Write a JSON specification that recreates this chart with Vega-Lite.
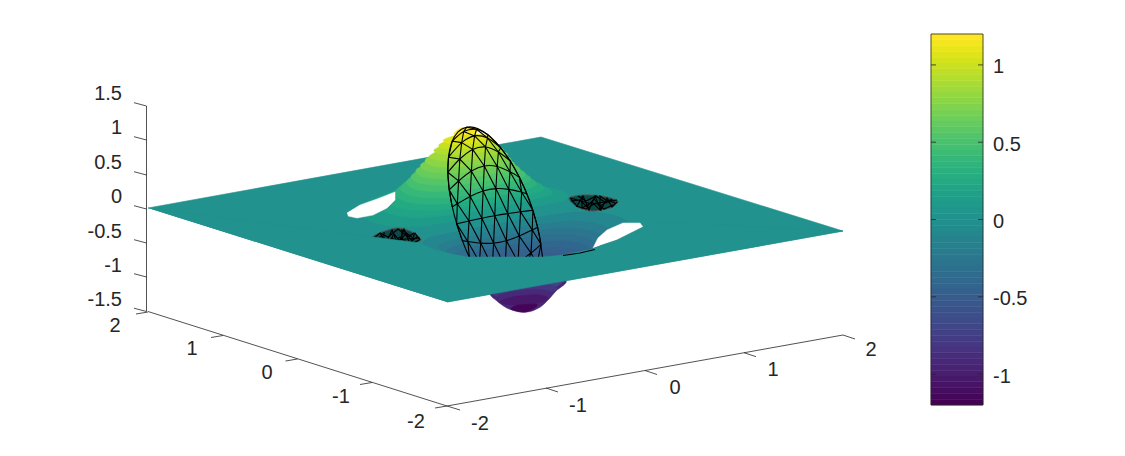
{"$schema":"https://vega.github.io/schema/vega-lite/v6.json","width":1125,"height":456,"padding":0,"autosize":{"type":"fit","contains":"padding"},"background":"#ffffff","config":{"view":{"stroke":null}},
"datasets":{
"plane":[{"p":1,"z":0.01,"pts":[[148,208],[541,137],[843,231],[447,302]]}],
"poly":[
{"p":2,"z":0.105,"pts":[[494.6,215],[556.2,202.6],[565.7,199],[568.3,194.9],[559.4,189.9],[538.3,185.5],[511.6,182.9],[474.3,182.2],[446.3,183.5],[408,187.8],[380.3,195.3],[367.2,201.4],[359.8,210.1],[362.9,216.9],[374.8,222.9],[392.7,226.3],[410.3,226.9],[427.4,225.6]]},
{"p":3,"z":0.19,"pts":[[493.3,208.4],[546.6,196.2],[552,191.6],[544,186.4],[522,182.2],[492,180.2],[457.5,180.9],[419.6,185.2],[391.5,192.7],[379.4,200.4],[379.2,207.8],[390.2,214],[409,217.2],[429.4,217.3]]},
{"p":31,"z":0.26,"pts":[[492.2,202.85],[536.4,192.85],[544.25,187.8],[536.95,182.45],[514.25,178.4],[481.2,176.95],[424.3,181.5],[390.2,193.25],[386.95,201.2],[397.25,207.55],[416.75,210.6],[439.6,210.3]]},
{"p":4,"z":0.34,"pts":[[491.1,197.3],[526.2,189.5],[536.5,184],[529.9,178.5],[506.5,174.6],[470.4,173.7],[429,177.8],[401,186.1],[394.7,194.6],[404.3,201.1],[424.5,204],[449.8,203.3]]},
{"p":41,"z":0.41,"pts":[[489.95,191.75],[515.9,186.15],[530.8,179.8],[524.9,174.2],[500.75,170.4],[467.35,169.95],[432.15,173.6],[407.75,180.65],[400.45,188.4],[409.3,195],[430.2,197.8],[460.1,196.2]]},
{"p":5,"z":0.49,"pts":[[488.8,186.2],[505.6,182.8],[525.1,175.6],[519.9,169.9],[495,166.2],[464.3,166.2],[435.3,169.4],[414.5,175.2],[406.2,182.2],[414.3,188.9],[435.9,191.6],[470.4,189.1]]},
{"p":51,"z":0.56,"pts":[[487.65,180.65],[506.4,176.55],[519.95,171.35],[515.7,165.45],[493.9,162.15],[469.45,161.9],[438.85,165.3],[416.85,171.4],[411.1,177.05],[418.5,182.95],[441.05,185.45],[465.9,183.8]]},
{"p":6,"z":0.64,"pts":[[486.5,175.1],[507.2,170.3],[514.8,167.1],[511.5,161],[492.8,158.1],[474.6,157.6],[442.4,161.2],[419.2,167.6],[416,171.9],[422.7,177],[446.2,179.3],[461.4,178.5]]},
{"p":61,"z":0.71,"pts":[[485.2,169.5],[505.45,164.45],[511.3,160.7],[507.55,156.55],[491.9,153.95],[474,153.45],[444.1,156.55],[423.5,162.55],[420.6,166.75],[426.65,171.05],[442.3,173],[459.35,172.75]]},
{"p":7,"z":0.79,"pts":[[483.9,163.9],[503.7,158.6],[507.8,154.3],[503.6,152.1],[491,149.8],[473.4,149.3],[445.8,151.9],[427.8,157.5],[425.2,161.6],[430.6,165.1],[438.4,166.7],[457.3,167]]},
{"p":71,"z":0.86,"pts":[[482.2,158.15],[502.65,150.9],[499.65,147.6],[486.45,145.4],[448.2,147.45],[429.75,155.6],[434.55,159.2],[447.25,160.8]]},
{"p":8,"z":0.93,"pts":[[480.5,152.4],[497.5,147.5],[495.7,143.1],[481.9,141],[450.6,143],[434.3,149.6],[438.5,153.3],[456.1,154.9]]},
{"p":81,"z":1.0,"pts":[[478.85,147.35],[493.9,142.75],[491.8,139.3],[478.75,137.45],[453.05,139.25],[438.95,144.65],[442.4,148.1],[456,149.55]]},
{"p":9,"z":1.08,"pts":[[477.2,142.3],[490.3,138],[487.9,135.5],[475.6,133.9],[455.5,135.5],[443.6,139.7],[446.3,142.9],[455.9,144.2]]},
{"p":10,"z":1.18,"pts":[[472.3,133.9],[480.2,130],[475,128],[461.1,128],[454,134.6]]},
{"p":11,"z":-0.95,"pts":[[490,293],[497,301],[506,307.5],[515,311],[523,312.3],[532,311],[541,306.5],[549,299],[556,291],[566,281],[540,275],[500,275]]},
{"p":12,"z":-0.105,"pts":[[496.4,224],[563.6,213.4],[580.7,212.1],[598.3,212.7],[616.2,216.1],[628,222.1],[631.2,228.9],[623.9,237.6],[610.7,243.7],[583,251.2],[544.7,255.5],[516.7,256.8],[479.4,256.1],[452.7,253.5],[431.6,249.1],[422.7,244.1],[425.3,240],[434.8,236.4]]},
{"p":13,"z":-0.19,"pts":[[497.7,230.6],[561.6,221.8],[582,221.8],[600.8,225],[611.8,231.2],[611.6,238.6],[599.5,246.3],[571.4,253.8],[533.5,258.1],[499,258.8],[469,256.8],[447,252.6],[439,247.4],[444.4,242.8]]},
{"p":131,"z":-0.26,"pts":[[498.8,236.15],[551.4,228.8],[574.25,228.4],[593.75,231.45],[604.05,237.8],[600.8,245.75],[566.7,257.5],[509.8,262.05],[476.75,260.6],[454.05,256.55],[446.75,251.2],[454.6,246.15]]},
{"p":14,"z":-0.34,"pts":[[499.9,241.7],[541.2,235.8],[566.5,235],[586.7,237.9],[596.3,244.4],[590,252.9],[562,261.2],[520.6,265.3],[484.5,264.4],[461.1,260.5],[454.5,255],[464.8,249.5]]},
{"p":141,"z":-0.41,"pts":[[501.05,247.25],[530.9,242.85],[560.8,241.2],[581.7,244],[590.55,250.6],[583.25,258.35],[558.85,265.4],[523.65,269.05],[490.25,268.6],[466.1,264.8],[460.2,259.2],[475.1,252.9]]},
{"p":15,"z":-0.47,"pts":[[502.2,252.8],[520.6,249.9],[555.1,247.4],[576.7,250.1],[584.8,256.8],[576.5,263.8],[555.7,269.6],[526.7,272.8],[496,272.8],[471.1,269.1],[465.9,263.4],[485.4,256.3]]},
{"p":151,"z":-0.51,"pts":[[503.35,258.35],[525.1,255.2],[549.95,253.55],[572.5,256.05],[579.9,261.95],[574.15,267.6],[552.15,273.7],[521.55,277.1],[497.1,276.85],[475.3,273.55],[471.05,267.65],[484.6,262.5]]},
{"p":16,"z":-0.55,"pts":[[504.5,263.9],[529.6,260.5],[544.8,259.7],[568.3,262],[575,267.1],[571.8,271.4],[548.6,277.8],[516.4,281.4],[498.2,280.9],[479.5,278],[476.2,271.9],[483.8,268.7]]},
{"p":161,"z":-0.6,"pts":[[505.8,269.5],[531.65,266.25],[548.7,266],[564.35,267.95],[570.4,272.25],[567.5,276.45],[546.9,282.45],[517,285.55],[499.1,285.05],[483.45,282.45],[479.7,278.3],[485.55,274.55]]},
{"p":17,"z":-0.66,"pts":[[507.1,275.1],[533.7,272],[552.6,272.3],[560.4,273.9],[565.8,277.4],[563.2,281.5],[545.2,287.1],[517.6,289.7],[500,289.2],[487.4,286.9],[483.2,284.7],[487.3,280.4]]},
{"p":171,"z":-0.74,"pts":[[508.8,280.85],[543.75,278.2],[556.45,279.8],[561.25,283.4],[542.8,291.55],[504.55,293.6],[491.35,291.4],[488.35,288.1]]},
{"p":18,"z":-0.83,"pts":[[510.5,286.6],[534.9,284.1],[552.5,285.7],[556.7,289.4],[540.4,296],[509.1,298],[495.3,295.9],[493.5,291.5]]},
{"p":181,"z":-0.93,"pts":[[512.15,291.65],[535,289.45],[548.6,290.9],[552.05,294.35],[537.95,299.75],[512.25,301.55],[499.2,299.7],[497.1,296.25]]},
{"p":19,"z":-1.05,"pts":[[513.8,296.7],[535.1,294.8],[544.7,296.1],[547.4,299.3],[535.5,303.5],[515.4,305.1],[503.1,303.5],[500.7,301]]},
{"p":20,"z":-1.18,"pts":[[518.7,305.1],[537,304.4],[532,309.5],[524,312],[510.8,309]]}
],
"dark":[
{"p":21,"pts":[[372,238],[382,232],[398,228],[412,232],[421,240],[407,245],[387,245.5]]},
{"p":22,"pts":[[569,198],[583,195],[602,196],[618,201],[610,208],[592,211],[577,207]]}],
"front":[{"p":30,"z":0.01,"pts":[[447,302],[843,231],[660,222],[643,227],[633,232],[617,240],[602,245],[593,249],[563,255],[543,257],[467,257],[452,254],[435,250],[420,243],[148,208]]}],
"white":[
{"p":40,"pts":[[347,213],[360,205],[377,199],[395,192],[395,200],[387,208],[373,215],[357,218],[348,216]]},
{"p":41,"pts":[[593,248],[598,238],[607,230],[623,223],[640,223],[643,227],[633,232],[617,240],[602,245]]}],
"curve":[
{"p":"outline","pts":[[476.9,271.5],[466.1,250],[457.4,226.3],[451.3,202.2],[448.1,179.3],[448.3,159.1],[451.5,143],[457.8,132.1],[466.7,127.2],[477.6,128.5],[489.7,136.2],[502.1,149.5],[514.1,167.5],[524.9,189],[533.6,212.7],[539.7,236.8],[542.9,259.7]]},
{"p":"y34","pts":[[452.3,141.1],[463.7,131.6],[476.5,129.3],[487.9,134.7]]},
{"p":"y28","pts":[[448.5,157.1],[461.7,142.6],[474.6,135.9],[487.5,138],[500.7,147.7]]},
{"p":"y22","pts":[[447.8,172.3],[459.8,159],[472.7,149.4],[485.5,147],[498.4,152],[510.4,161.1]]},
{"p":"y15","pts":[[449.2,189.9],[458.6,181],[471.4,171.1],[484.3,166],[497.2,166.5],[510,171.8],[519.4,177.3]]},
{"p":"y08","pts":[[452.2,207],[457.3,203.8],[470.2,196.4],[483.1,191],[495.9,188.6],[508.8,189.4],[521.7,192.2],[526.8,193.6]]},
{"p":"y01","pts":[[456.7,223.9],[469,221],[481.9,218.2],[494.8,215.7],[507.7,213.6],[520.5,211.8],[532.9,210.3]]},
{"p":"y-06","pts":[[462.4,240.6],[467.8,241.5],[480.7,243.1],[493.6,243.1],[506.4,240.7],[519.3,236.1],[532.2,229.9],[537.6,227.2]]},
{"p":"y-13","pts":[[469.4,257.1],[479.5,262.2],[492.3,266.6],[505.2,266.8],[518.1,262],[531,253],[541,244.3]]}
],
"mesh":[
{"p":"z0","pts":[[463.7,131.6],[466.7,127.2],[476.5,129.3]]},
{"p":"z1","pts":[[448.5,157.1],[452.3,141.1],[461.7,142.6],[463.7,131.6],[474.6,135.9],[476.5,129.3],[487.5,138],[487.9,134.7],[500.7,147.7]]},
{"p":"z2","pts":[[447.8,172.3],[448.5,157.1],[459.8,159],[461.7,142.6],[472.7,149.4],[474.6,135.9],[485.5,147],[487.5,138],[498.4,152],[500.7,147.7],[510.4,161.1]]},
{"p":"z3","pts":[[449.2,189.9],[447.8,172.3],[458.6,181],[459.8,159],[471.4,171.1],[472.7,149.4],[484.3,166],[485.5,147],[497.2,166.5],[498.4,152],[510,171.8],[510.4,161.1],[519.4,177.3]]},
{"p":"z4","pts":[[452.2,207],[449.2,189.9],[457.3,203.8],[458.6,181],[470.2,196.4],[471.4,171.1],[483.1,191],[484.3,166],[495.9,188.6],[497.2,166.5],[508.8,189.4],[510,171.8],[521.7,192.2],[519.4,177.3],[526.8,193.6]]},
{"p":"z5","pts":[[456.7,223.9],[457.3,203.8],[469,221],[470.2,196.4],[481.9,218.2],[483.1,191],[494.8,215.7],[495.9,188.6],[507.7,213.6],[508.8,189.4],[520.5,211.8],[521.7,192.2],[532.9,210.3],[526.8,193.6]]},
{"p":"z6","pts":[[462.4,240.6],[456.7,223.9],[467.8,241.5],[469,221],[480.7,243.1],[481.9,218.2],[493.6,243.1],[494.8,215.7],[506.4,240.7],[507.7,213.6],[519.3,236.1],[520.5,211.8],[532.2,229.9],[532.9,210.3],[537.6,227.2]]},
{"p":"z7","pts":[[469.4,257.1],[467.8,241.5],[479.5,262.2],[480.7,243.1],[492.3,266.6],[493.6,243.1],[505.2,266.8],[506.4,240.7],[518.1,262],[519.3,236.1],[531,253],[532.2,229.9],[541,244.3],[537.6,227.2]]},
{"p":"z8","pts":[[541,244.3],[537,264],[531,253],[524,270]]},
{"p":"h1a","pts":[[374,238],[380,233],[386,243],[392,230],[398,245],[404,229],[410,244],[415,233],[420,240]]},
{"p":"h1b","pts":[[375,240],[382,236],[388,244],[394,234],[400,241],[406,233],[412,241],[418,236]]},
{"p":"h1c","pts":[[380,233],[388,237],[398,229],[408,237],[414,233]]},
{"p":"h1d","pts":[[378,241],[390,245],[400,237],[410,245],[419,240]]},
{"p":"h1e","pts":[[384,232],[384,245],[392,238],[402,245],[402,230],[412,237]]},
{"p":"h1f","pts":[[373,238],[395,240],[420,238]]},
{"p":"h2a","pts":[[571,199],[577,206],[583,196],[589,210],[595,196],[601,210],[607,198],[612,207],[617,202]]},
{"p":"h2b","pts":[[571,201],[580,200],[587,207],[594,199],[601,206],[608,200],[615,203]]},
{"p":"h2c","pts":[[578,196],[586,201],[596,196],[606,203],[612,199]]},
{"p":"h2d","pts":[[576,206],[586,209],[596,203],[604,209],[613,205]]},
{"p":"h2e","pts":[[582,196],[582,208],[592,202],[600,210],[600,196],[610,203]]},
{"p":"h2f","pts":[[570,198],[592,204],[617,200]]}
],
"edge":[{"p":"e1","pts":[[563,255.5],[580,253],[595,249.5]]}],
"axes":[
{"p":"xa","pts":[[447,406],[843,335]]},{"p":"ya","pts":[[447,406],[148,311.5]]},{"p":"za","pts":[[146.5,311.5],[146.5,106]]},
{"p":"xt0","pts":[[447,406],[460,410]]},{"p":"xt1","pts":[[546,388],[558,392]]},{"p":"xt2","pts":[[645,370.5],[657,374.5]]},{"p":"xt3","pts":[[744,352.7],[756,356.7]]},{"p":"xt4","pts":[[843,335],[855,339]]},
{"p":"yt0","pts":[[447,406],[435,408]]},{"p":"yt1","pts":[[372,382.5],[360,384.5]]},{"p":"yt2","pts":[[297.5,359],[285.5,361]]},{"p":"yt3","pts":[[223,335.5],[211,337.5]]},{"p":"yt4","pts":[[148,312],[136,314]]},
{"p":"zt0","pts":[[146.5,106],[134,102.7]]},{"p":"zt1","pts":[[146.5,140],[134,136.7]]},{"p":"zt2","pts":[[146.5,175],[134,171.7]]},{"p":"zt3","pts":[[146.5,209],[134,205.7]]},{"p":"zt4","pts":[[146.5,243],[134,239.7]]},{"p":"zt5","pts":[[146.5,277],[134,273.7]]},{"p":"zt6","pts":[[146.5,311.5],[134,308.2]]}
],
"labelsR":[{"u":122,"v":94,"t":"1.5"},{"u":122,"v":128,"t":"1"},{"u":122,"v":163,"t":"0.5"},{"u":122,"v":197,"t":"0"},{"u":122,"v":232,"t":"-0.5"},{"u":122,"v":266,"t":"-1"},{"u":122,"v":300,"t":"-1.5"}],
"labelsC":[{"u":480,"v":424,"t":"-2"},{"u":578,"v":406,"t":"-1"},{"u":675,"v":388,"t":"0"},{"u":773,"v":370,"t":"1"},{"u":871,"v":350,"t":"2"},{"u":416,"v":422,"t":"-2"},{"u":341,"v":397,"t":"-1"},{"u":267,"v":373,"t":"0"},{"u":192,"v":349,"t":"1"},{"u":115,"v":326,"t":"2"}],
"bar":[{"a":-1.2,"b":-1.1625},{"a":-1.1625,"b":-1.125},{"a":-1.125,"b":-1.0875},{"a":-1.0875,"b":-1.05},{"a":-1.05,"b":-1.0125},{"a":-1.0125,"b":-0.975},{"a":-0.975,"b":-0.9375},{"a":-0.9375,"b":-0.9},{"a":-0.9,"b":-0.8625},{"a":-0.8625,"b":-0.825},{"a":-0.825,"b":-0.7875},{"a":-0.7875,"b":-0.75},{"a":-0.75,"b":-0.7125},{"a":-0.7125,"b":-0.675},{"a":-0.675,"b":-0.6375},{"a":-0.6375,"b":-0.6},{"a":-0.6,"b":-0.5625},{"a":-0.5625,"b":-0.525},{"a":-0.525,"b":-0.4875},{"a":-0.4875,"b":-0.45},{"a":-0.45,"b":-0.4125},{"a":-0.4125,"b":-0.375},{"a":-0.375,"b":-0.3375},{"a":-0.3375,"b":-0.3},{"a":-0.3,"b":-0.2625},{"a":-0.2625,"b":-0.225},{"a":-0.225,"b":-0.1875},{"a":-0.1875,"b":-0.15},{"a":-0.15,"b":-0.1125},{"a":-0.1125,"b":-0.075},{"a":-0.075,"b":-0.0375},{"a":-0.0375,"b":0},{"a":0,"b":0.0375},{"a":0.0375,"b":0.075},{"a":0.075,"b":0.1125},{"a":0.1125,"b":0.15},{"a":0.15,"b":0.1875},{"a":0.1875,"b":0.225},{"a":0.225,"b":0.2625},{"a":0.2625,"b":0.3},{"a":0.3,"b":0.3375},{"a":0.3375,"b":0.375},{"a":0.375,"b":0.4125},{"a":0.4125,"b":0.45},{"a":0.45,"b":0.4875},{"a":0.4875,"b":0.525},{"a":0.525,"b":0.5625},{"a":0.5625,"b":0.6},{"a":0.6,"b":0.6375},{"a":0.6375,"b":0.675},{"a":0.675,"b":0.7125},{"a":0.7125,"b":0.75},{"a":0.75,"b":0.7875},{"a":0.7875,"b":0.825},{"a":0.825,"b":0.8625},{"a":0.8625,"b":0.9},{"a":0.9,"b":0.9375},{"a":0.9375,"b":0.975},{"a":0.975,"b":1.0125},{"a":1.0125,"b":1.05},{"a":1.05,"b":1.0875},{"a":1.0875,"b":1.125},{"a":1.125,"b":1.1625},{"a":1.1625,"b":1.2}],
"barTicks":[{"t":1,"s":"1"},{"t":0.5,"s":"0.5"},{"t":0,"s":"0"},{"t":-0.5,"s":"-0.5"},{"t":-1,"s":"-1"}]
},
"resolve":{"scale":{"y":"independent","color":"independent","stroke":"independent"}},
"layer":[
{"data":{"name":"plane"},"transform":[{"flatten":["pts"]},{"calculate":"datum.pts[0]","as":"u"},{"calculate":"datum.pts[1]","as":"v"}],
"mark":{"type":"line","filled":true,"strokeWidth":0.6},
"encoding":{"x":{"field":"u","type":"quantitative","scale":{"domain":[0,1125],"nice":false,"zero":false},"axis":null},"y":{"field":"v","type":"quantitative","scale":{"domain":[456,0],"nice":false,"zero":false},"axis":null},"detail":{"field":"p"},"order":{"value":null},"color":{"field":"z","type":"quantitative","scale":{"scheme":"viridis","domain":[-1.2,1.2]},"legend":null},"stroke":{"field":"z","type":"quantitative","scale":{"scheme":"viridis","domain":[-1.2,1.2]},"legend":null}}},
{"data":{"name":"poly"},"transform":[{"flatten":["pts"]},{"calculate":"datum.pts[0]","as":"u"},{"calculate":"datum.pts[1]","as":"v"}],
"mark":{"type":"line","filled":true,"strokeWidth":0.6,"interpolate":"cardinal-closed","tension":0.2},
"encoding":{"x":{"field":"u","type":"quantitative","scale":{"domain":[0,1125],"nice":false,"zero":false},"axis":null},"y":{"field":"v","type":"quantitative","scale":{"domain":[456,0],"nice":false,"zero":false},"axis":null},"detail":{"field":"p"},"order":{"value":null},"color":{"field":"z","type":"quantitative","scale":{"scheme":"viridis","domain":[-1.2,1.2]},"legend":null},"stroke":{"field":"z","type":"quantitative","scale":{"scheme":"viridis","domain":[-1.2,1.2]},"legend":null}}},
{"data":{"name":"white"},"transform":[{"flatten":["pts"]},{"calculate":"datum.pts[0]","as":"u"},{"calculate":"datum.pts[1]","as":"v"}],
"mark":{"type":"line","filled":true,"color":"#ffffff","stroke":"#ffffff","strokeWidth":0.5},
"encoding":{"x":{"field":"u","type":"quantitative","scale":{"domain":[0,1125],"nice":false,"zero":false},"axis":null},"y":{"field":"v","type":"quantitative","scale":{"domain":[456,0],"nice":false,"zero":false},"axis":null},"detail":{"field":"p"},"order":{"value":null}}},
{"data":{"name":"dark"},"transform":[{"flatten":["pts"]},{"calculate":"datum.pts[0]","as":"u"},{"calculate":"datum.pts[1]","as":"v"}],
"mark":{"type":"line","filled":true,"color":"#0c4a4a","stroke":"#555555","strokeWidth":1,"interpolate":"cardinal-closed","tension":0.2},
"encoding":{"x":{"field":"u","type":"quantitative","scale":{"domain":[0,1125],"nice":false,"zero":false},"axis":null},"y":{"field":"v","type":"quantitative","scale":{"domain":[456,0],"nice":false,"zero":false},"axis":null},"detail":{"field":"p"},"order":{"value":null}}},
{"data":{"name":"mesh"},"transform":[{"flatten":["pts"]},{"calculate":"datum.pts[0]","as":"u"},{"calculate":"datum.pts[1]","as":"v"}],
"mark":{"type":"line","color":"#000000","strokeWidth":1.1},
"encoding":{"x":{"field":"u","type":"quantitative","scale":{"domain":[0,1125],"nice":false,"zero":false},"axis":null},"y":{"field":"v","type":"quantitative","scale":{"domain":[456,0],"nice":false,"zero":false},"axis":null},"detail":{"field":"p"},"order":{"value":null}}},
{"data":{"name":"curve"},"transform":[{"flatten":["pts"]},{"calculate":"datum.pts[0]","as":"u"},{"calculate":"datum.pts[1]","as":"v"}],
"mark":{"type":"line","color":"#000000","strokeWidth":1.1,"interpolate":"cardinal","tension":0.2},
"encoding":{"x":{"field":"u","type":"quantitative","scale":{"domain":[0,1125],"nice":false,"zero":false},"axis":null},"y":{"field":"v","type":"quantitative","scale":{"domain":[456,0],"nice":false,"zero":false},"axis":null},"detail":{"field":"p"},"order":{"value":null}}},
{"data":{"name":"front"},"transform":[{"flatten":["pts"]},{"calculate":"datum.pts[0]","as":"u"},{"calculate":"datum.pts[1]","as":"v"}],
"mark":{"type":"line","filled":true,"strokeWidth":0.6},
"encoding":{"x":{"field":"u","type":"quantitative","scale":{"domain":[0,1125],"nice":false,"zero":false},"axis":null},"y":{"field":"v","type":"quantitative","scale":{"domain":[456,0],"nice":false,"zero":false},"axis":null},"detail":{"field":"p"},"order":{"value":null},"color":{"field":"z","type":"quantitative","scale":{"scheme":"viridis","domain":[-1.2,1.2]},"legend":null},"stroke":{"field":"z","type":"quantitative","scale":{"scheme":"viridis","domain":[-1.2,1.2]},"legend":null}}},
{"data":{"name":"edge"},"transform":[{"flatten":["pts"]},{"calculate":"datum.pts[0]","as":"u"},{"calculate":"datum.pts[1]","as":"v"}],
"mark":{"type":"line","color":"#000000","strokeWidth":1.2},
"encoding":{"x":{"field":"u","type":"quantitative","scale":{"domain":[0,1125],"nice":false,"zero":false},"axis":null},"y":{"field":"v","type":"quantitative","scale":{"domain":[456,0],"nice":false,"zero":false},"axis":null},"detail":{"field":"p"},"order":{"value":null}}},
{"data":{"name":"axes"},"transform":[{"flatten":["pts"]},{"calculate":"datum.pts[0]","as":"u"},{"calculate":"datum.pts[1]","as":"v"}],
"mark":{"type":"line","color":"#262626","strokeWidth":0.8},
"encoding":{"x":{"field":"u","type":"quantitative","scale":{"domain":[0,1125],"nice":false,"zero":false},"axis":null},"y":{"field":"v","type":"quantitative","scale":{"domain":[456,0],"nice":false,"zero":false},"axis":null},"detail":{"field":"p"},"order":{"value":null}}},
{"data":{"name":"labelsR"},"mark":{"type":"text","align":"right","baseline":"middle","font":"Liberation Sans","fontSize":20,"color":"#262626"},
"encoding":{"x":{"field":"u","type":"quantitative","scale":{"domain":[0,1125],"nice":false,"zero":false},"axis":null},"y":{"field":"v","type":"quantitative","scale":{"domain":[456,0],"nice":false,"zero":false},"axis":null},"text":{"field":"t"}}},
{"data":{"name":"labelsC"},"mark":{"type":"text","align":"center","baseline":"middle","font":"Liberation Sans","fontSize":20,"color":"#262626"},
"encoding":{"x":{"field":"u","type":"quantitative","scale":{"domain":[0,1125],"nice":false,"zero":false},"axis":null},"y":{"field":"v","type":"quantitative","scale":{"domain":[456,0],"nice":false,"zero":false},"axis":null},"text":{"field":"t"}}},
{"data":{"name":"bar"},"mark":{"type":"rect","strokeWidth":0.5},
"encoding":{"x":{"datum":931,"type":"quantitative","scale":{"domain":[0,1125],"nice":false,"zero":false},"axis":null},"x2":{"datum":983},"y":{"field":"a","type":"quantitative","scale":{"domain":[-1.2,1.2],"range":[405,34],"nice":false,"zero":false},"axis":null},"y2":{"field":"b"},"color":{"field":"a","type":"quantitative","scale":{"scheme":"viridis","domain":[-1.2,1.1625]},"legend":null},"stroke":{"field":"a","type":"quantitative","scale":{"scheme":"viridis","domain":[-1.2,1.1625]},"legend":null}}},
{"data":{"values":[{"l":-1.2,"h":1.2}]},"mark":{"type":"rect","fillOpacity":0,"stroke":"#262626","strokeWidth":0.8},
"encoding":{"x":{"datum":931,"type":"quantitative","scale":{"domain":[0,1125],"nice":false,"zero":false},"axis":null},"x2":{"datum":983},"y":{"field":"l","type":"quantitative","scale":{"domain":[-1.2,1.2],"range":[405,34],"nice":false,"zero":false},"axis":null},"y2":{"field":"h"}}},
{"data":{"name":"barTicks"},"mark":{"type":"rule","color":"#262626","strokeWidth":0.8},
"encoding":{"x":{"datum":931,"type":"quantitative","scale":{"domain":[0,1125],"nice":false,"zero":false},"axis":null},"x2":{"datum":936},"y":{"field":"t","type":"quantitative","scale":{"domain":[-1.2,1.2],"range":[405,34],"nice":false,"zero":false},"axis":null}}},
{"data":{"name":"barTicks"},"mark":{"type":"rule","color":"#262626","strokeWidth":0.8},
"encoding":{"x":{"datum":978,"type":"quantitative","scale":{"domain":[0,1125],"nice":false,"zero":false},"axis":null},"x2":{"datum":983},"y":{"field":"t","type":"quantitative","scale":{"domain":[-1.2,1.2],"range":[405,34],"nice":false,"zero":false},"axis":null}}},
{"data":{"name":"barTicks"},"mark":{"type":"text","align":"left","baseline":"middle","font":"Liberation Sans","fontSize":20,"color":"#262626","dy":2.5},
"encoding":{"x":{"datum":993,"type":"quantitative","scale":{"domain":[0,1125],"nice":false,"zero":false},"axis":null},"y":{"field":"t","type":"quantitative","scale":{"domain":[-1.2,1.2],"range":[405,34],"nice":false,"zero":false},"axis":null},"text":{"field":"s"}}}
]}
